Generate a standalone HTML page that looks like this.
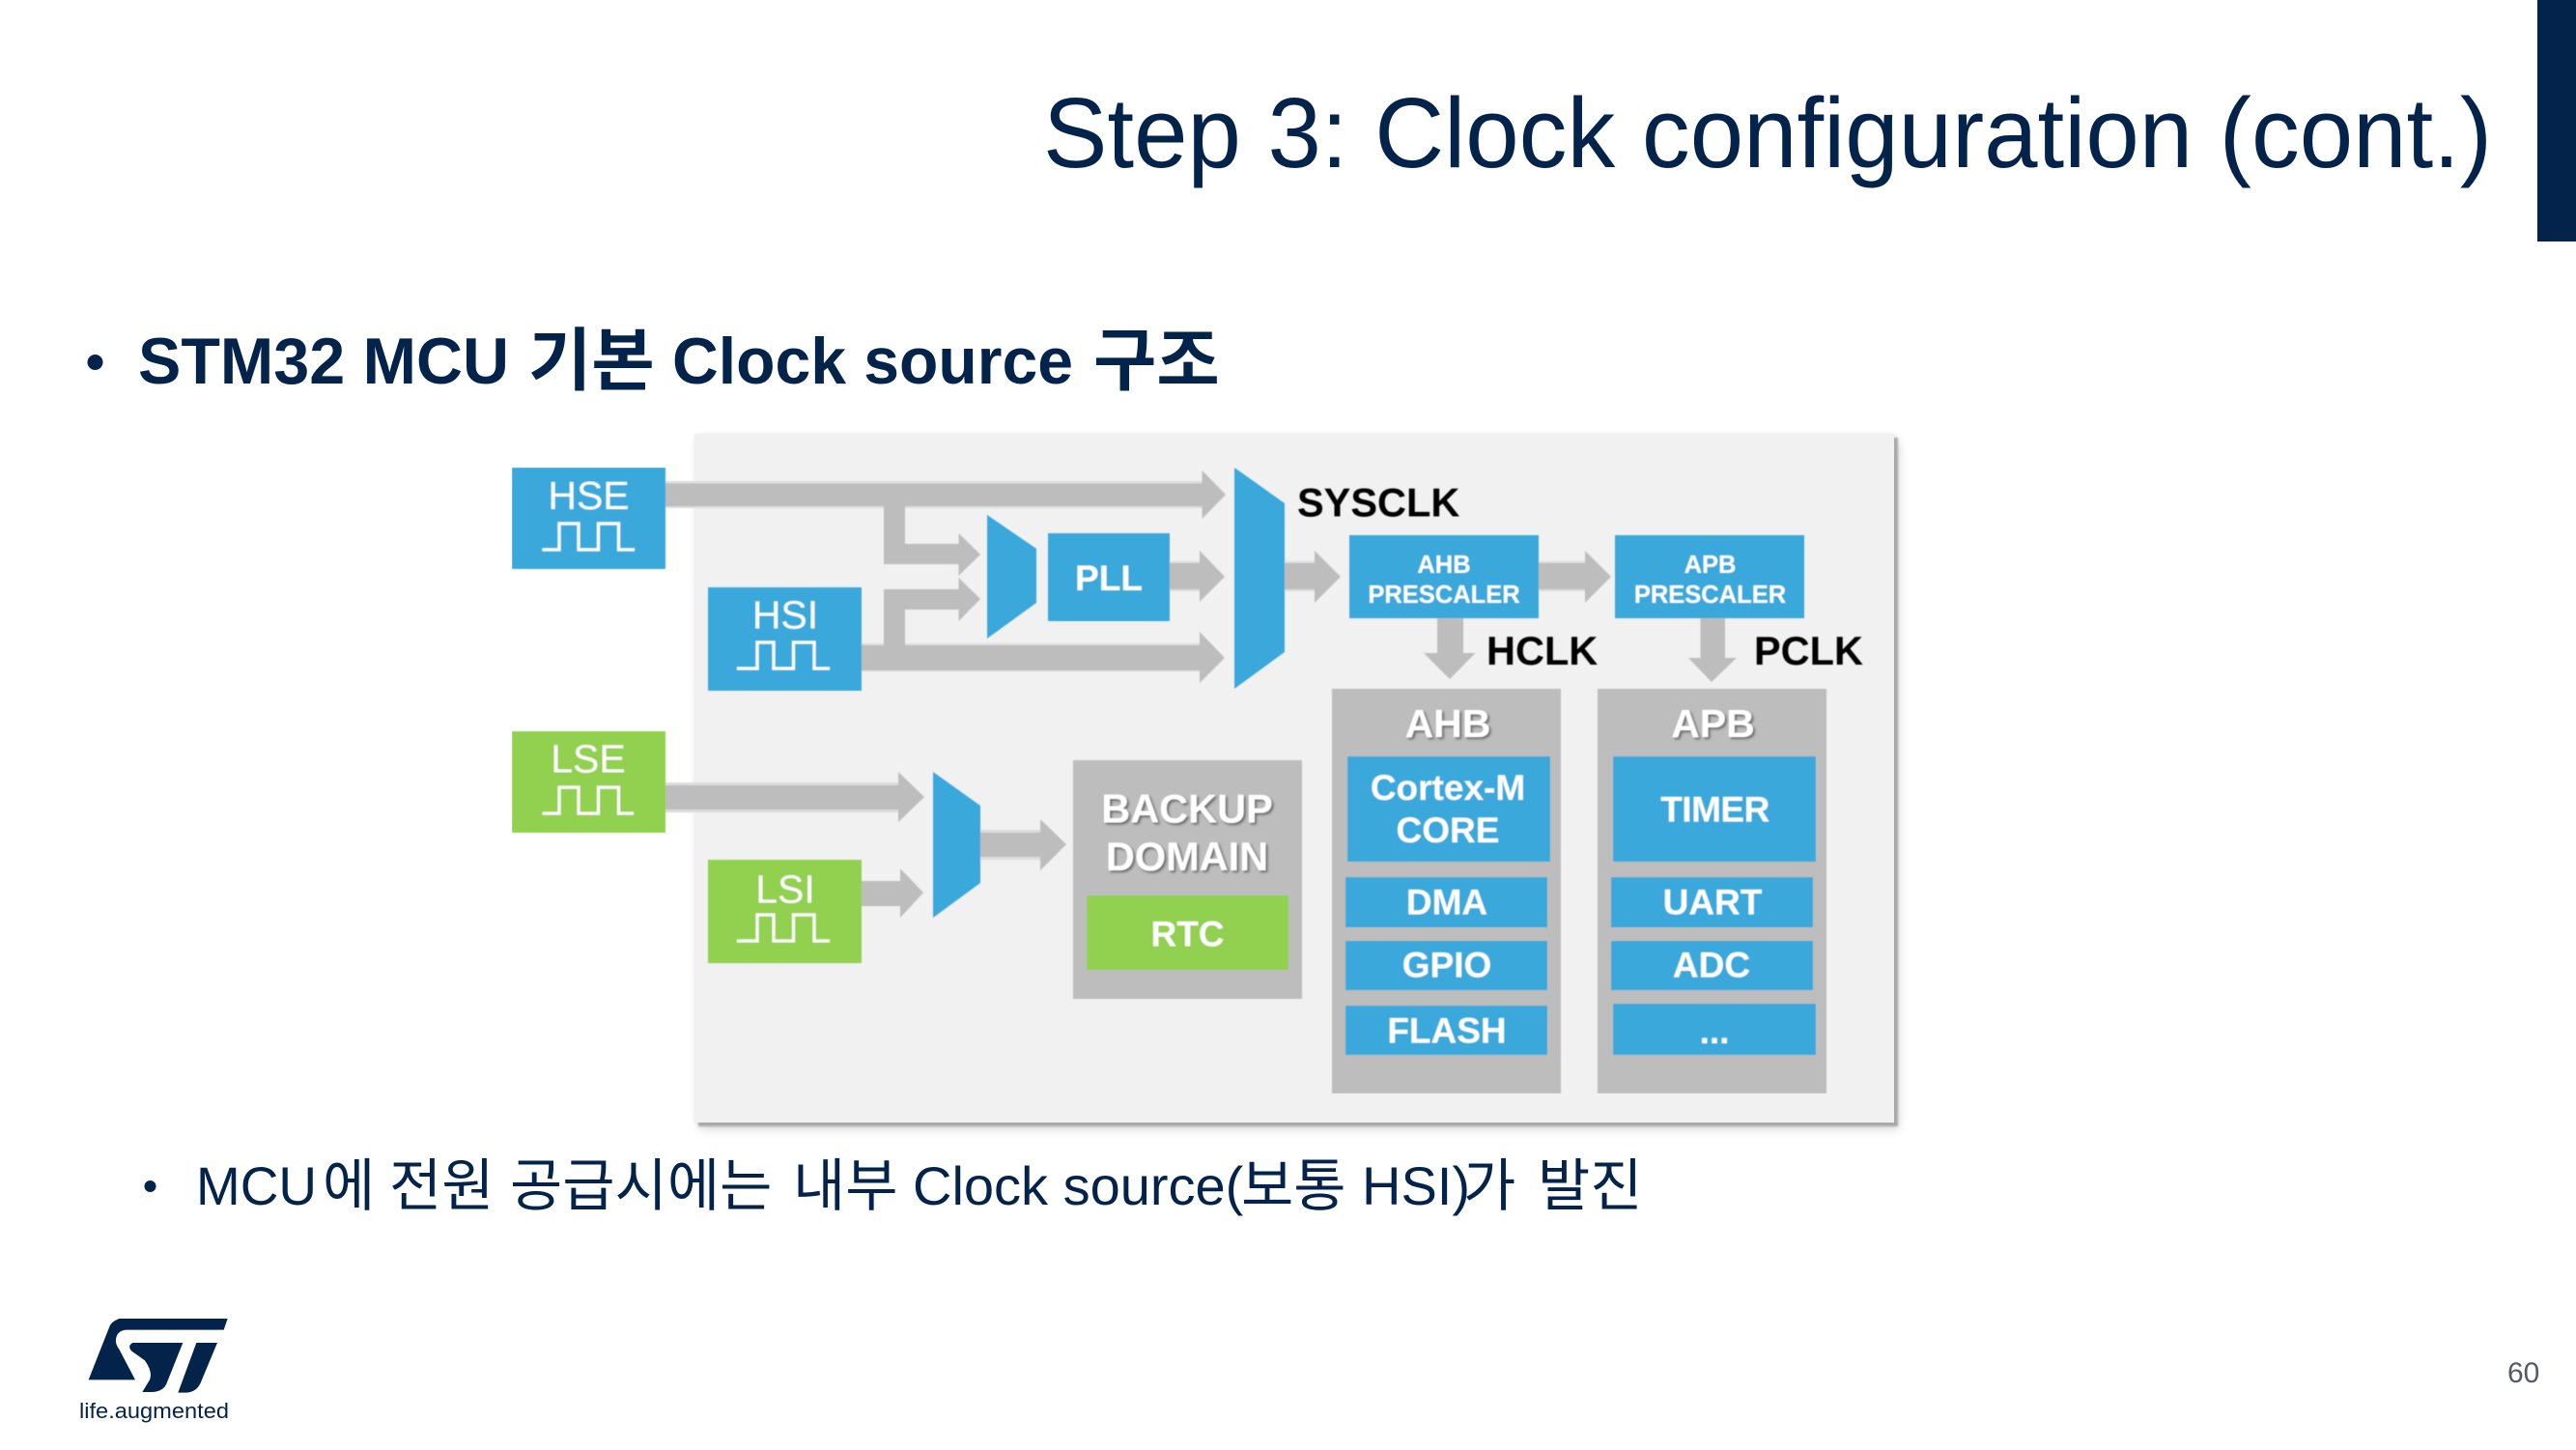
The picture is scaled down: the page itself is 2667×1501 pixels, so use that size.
<!DOCTYPE html>
<html><head><meta charset="utf-8"><style>
html,body{margin:0;padding:0;background:#fff;width:2667px;height:1501px;overflow:hidden}
#panel{position:absolute;left:719px;top:449px;width:1242px;height:713px;background:#f1f1f1;box-shadow:4px 4px 2px #a9a9a9,5px 7px 10px rgba(0,0,0,.15),0 0 5px rgba(0,0,0,.05)}
svg{position:absolute;left:0;top:0}
text{font-family:"Liberation Sans","Noto Sans CJK KR",sans-serif}
.w{fill:#fff;font-weight:700;text-anchor:middle}
.k{fill:#000;font-weight:700}
.s{filter:url(#ts)}
.wave{fill:none;stroke:#fff;stroke-width:3.2}
</style></head><body>
<div id="panel"></div>
<svg width="2667" height="1501" viewBox="0 0 2667 1501" xmlns="http://www.w3.org/2000/svg">
<defs>
<filter id="ts" x="-20%" y="-20%" width="140%" height="140%"><feDropShadow dx="2" dy="2" stdDeviation="1.2" flood-color="#555" flood-opacity=".8"/></filter>
<filter id="soft" x="0" y="0" width="100%" height="100%"><feGaussianBlur stdDeviation="0.6"/></filter>
</defs>
<rect x="2627" y="0" width="40" height="250" fill="#03234b"/>
<text x="1080" y="173" font-size="103" fill="#03234b" textLength="1500" lengthAdjust="spacingAndGlyphs">Step 3: Clock configuration (cont.)</text>
<circle cx="98.5" cy="375" r="8" fill="#03234b"/>
<g font-weight="700" fill="#03234b">
<text x="143" y="397" font-size="68" textLength="384" lengthAdjust="spacingAndGlyphs">STM32 MCU</text>
<text x="547" y="398" font-size="71">기본</text>
<text x="696" y="397" font-size="68" textLength="415" lengthAdjust="spacingAndGlyphs">Clock source</text>
<text x="1132" y="398" font-size="71">구조</text>
</g>
<circle cx="155.5" cy="1228" r="6" fill="#03234b"/>
<g fill="#03234b">
<text x="203" y="1247" font-size="56" textLength="125" lengthAdjust="spacingAndGlyphs">MCU</text>
<text y="1248" font-size="59"><tspan x="334">에</tspan><tspan x="403">전원</tspan><tspan x="528">공급시에는</tspan><tspan x="821">내부</tspan></text>
<text x="945" y="1247" font-size="56">Clock source(</text>
<text x="1285" y="1248" font-size="59">보통</text>
<text x="1410" y="1247" font-size="56">HSI)</text>
<text y="1248" font-size="59"><tspan x="1515">가</tspan><tspan x="1592">발진</tspan></text>
</g>
<text x="2596" y="1431" font-size="30" fill="#555a65">60</text>
<g fill="#03234b" transform="translate(60 1340) scale(.3333)">
<path d="M190 75H527L515 110H215Q190 110 182 130Q175 150 190 170L240 265H95L160 100Q165 85 190 75Z"/>
<path d="M232 150H388L340 270Q330 303 290 303H262L285 265Q295 240 270 205L228 175Q215 160 232 150Z"/>
<path d="M430 150H495L445 270Q432 305 395 305H373Z"/>
</g>
<text x="82" y="1468" font-size="22" fill="#03234b" textLength="155" lengthAdjust="spacingAndGlyphs">life.augmented</text>

<g filter="url(#soft)">
<g fill="#dcdcdc">
<rect x="689" y="498" width="556" height="28"/>
<rect x="892" y="666" width="350" height="29"/>
<rect x="689" y="810" width="241" height="31"/>
<rect x="1015" y="859" width="62" height="31"/>
<rect x="1211" y="581" width="31" height="31"/>
<rect x="1330" y="581" width="31" height="31"/>
<rect x="1593" y="581" width="48" height="31"/>
</g>
<g fill="#bdbdbd">
<polygon points="689,500.5 1244.5,500.5 1244.5,487 1269,512 1244.5,537 1244.5,524 689,524"/>
<polygon points="915,524 937,524 937,563 992.5,563 992.5,552 1015,574 992.5,596 992.5,584 915,584"/>
<polygon points="915,694 937,694 937,631 992.5,631 992.5,643 1015,620 992.5,598 992.5,610 915,610"/>
<polygon points="892,668 1242,668 1242,654 1268,681 1242,707 1242,694 892,694"/>
<polygon points="1211,583 1242,583 1242,570 1268,597 1242,623 1242,610 1211,610"/>
<polygon points="1330,583 1361,583 1361,570 1388,597 1361,624 1361,610 1330,610"/>
<polygon points="1593,583 1641,583 1641,570 1668,597 1641,624 1641,610 1593,610"/>
<polygon points="1488,640 1515,640 1515,676 1527.5,676 1501,703 1474,676 1488,676"/>
<polygon points="1760.5,640 1786,640 1786,681 1798,681 1772,706 1748,681 1760.5,681"/>
<polygon points="689,813 930,813 930,799 957,825 930,851 930,838 689,838"/>
<polygon points="892,912 932,912 932,899 956,924 932,950 932,938 892,938"/>
<polygon points="1015,862 1077,862 1077,848 1104,874 1077,901 1077,887 1015,887"/>
<rect x="1111" y="787" width="237" height="247"/>
<rect x="1379" y="713" width="237" height="419"/>
<rect x="1654" y="713" width="237" height="419"/>
</g>
<g fill="#3aa8db">
<rect x="530" y="484" width="159" height="105"/>
<rect x="733" y="608" width="159" height="107"/>
<rect x="1085" y="552" width="126" height="91"/>
<rect x="1397" y="554" width="196" height="86"/>
<rect x="1672" y="554" width="196" height="86"/>
<polygon points="1022,533 1073,568 1073,624 1022,661"/>
<polygon points="1278,484 1330,521 1330,675 1278,713"/>
<polygon points="966,799 1015,834 1015,914 966,950"/>
<rect x="1395" y="783" width="210" height="109"/>
<rect x="1393" y="908" width="209" height="52"/>
<rect x="1393" y="974" width="209" height="51"/>
<rect x="1393" y="1041" width="209" height="51"/>
<rect x="1670" y="783" width="210" height="109"/>
<rect x="1668" y="908" width="209" height="52"/>
<rect x="1668" y="974" width="209" height="51"/>
<rect x="1670" y="1039" width="210" height="53"/>
</g>
<g fill="#92d050">
<rect x="530" y="757" width="159" height="105"/>
<rect x="733" y="890" width="159" height="107"/>
<rect x="1125" y="927" width="209" height="77"/>
</g>
<path class="wave" d="M561.5 569H579V542H599V569H619.5V542H640.5V569H657"/>
<path class="wave" d="M763 692H784V665H801V692H821.5V665H843V692H859"/>
<path class="wave" d="M561.5 842H579V815H599V842H619.5V815H640.5V842H656"/>
<path class="wave" d="M763 974H784V947H801V974H821.5V947H843V974H859"/>

<g font-size="41" fill="#fff" text-anchor="middle">
<text x="609.5" y="527">HSE</text>
<text x="813" y="650.5">HSI</text>
<text x="609" y="799.5">LSE</text>
<text x="813" y="934.5">LSI</text>
</g>
<text class="w" x="1148" y="611" font-size="37">PLL</text>
<text class="k" x="1343" y="534.5" font-size="41.5">SYSCLK</text>
<text class="k" x="1539" y="688" font-size="41.5">HCLK</text>
<text class="k" x="1816" y="688" font-size="41.5">PCLK</text>
<g class="w" font-size="25.5">
<text x="1495" y="593">AHB</text><text x="1495" y="624">PRESCALER</text>
<text x="1770.5" y="593">APB</text><text x="1770.5" y="624">PRESCALER</text>
</g>
<text class="w s" x="1499" y="763" font-size="41">AHB</text>
<text class="w s" x="1773.5" y="763" font-size="41">APB</text>
<text class="w s" x="1229" y="851.5" font-size="41.5">BACKUP</text>
<text class="w s" x="1229" y="901" font-size="41.5">DOMAIN</text>
<text class="w" x="1229.5" y="979.5" font-size="37">RTC</text>
<g class="w" font-size="37">
<text x="1499" y="828">Cortex-M</text>
<text x="1499" y="872">CORE</text>
<text x="1498" y="946.5">DMA</text>
<text x="1498" y="1011.5">GPIO</text>
<text x="1498" y="1079.5">FLASH</text>
<text x="1775.5" y="850.5" letter-spacing="-.5">TIMER</text>
<text x="1773" y="946.5">UART</text>
<text x="1772" y="1011.5">ADC</text>
<text x="1775" y="1080">...</text>
</g>
</g>
</svg>
</body></html>
